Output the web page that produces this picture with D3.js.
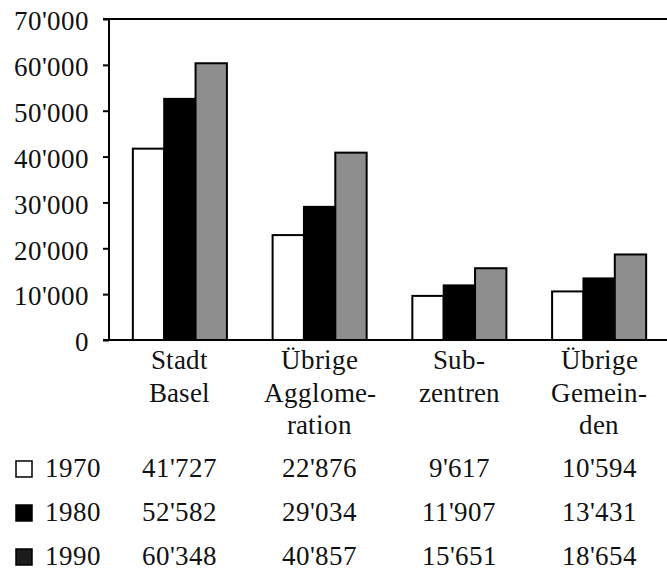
<!DOCTYPE html>
<html>
<head>
<meta charset="utf-8">
<script src="https://cdn.jsdelivr.net/npm/d3@7"></script>
<style>
  @font-face { font-family: 'ChartSerif'; src: local('Liberation Serif'), local('LiberationSerif'), local('LiberationSerif-Regular'), local('Tinos'), local('Times New Roman'); }
  html, body { margin: 0; padding: 0; background: #fff; }
  svg { display: block; }
</style>
</head>
<body>
<svg id="fig" width="667" height="571"></svg>
<script>
// ---- data ----
const categories = ["Stadt Basel", "Übrige Agglomeration", "Subzentren", "Übrige Gemeinden"];
const categoryLines = [["Stadt", "Basel"], ["Übrige", "Agglome-", "ration"], ["Sub-", "zentren"], ["Übrige", "Gemein-", "den"]];
const years = ["1970", "1980", "1990"];
const values1970 = [41727, 22876, 9617, 10594];
const values1980 = [52582, 29034, 11907, 13431];
const values1990 = [60348, 40857, 15651, 18654];
const yTicks = [0, 10000, 20000, 30000, 40000, 50000, 60000, 70000];

const series = [values1970, values1980, values1990];
const barFill = ["#ffffff", "#000000", "#8e8e8e"];
const legendFill = ["#ffffff", "#000000", "#1c1c1c"];

const locale = d3.formatLocale({ decimal: ".", thousands: "'", grouping: [3], currency: ["", ""] });
const fmt = locale.format(",d");

const svg = d3.select("#fig");
const fontSize = 27;
const serif = "'ChartSerif', 'Times New Roman'";

function styleText(sel) {
  return sel.style("font-family", serif)
    .attr("font-size", fontSize)
    .attr("fill", "#111");
}

const x0 = d3.scaleBand().domain(categories).range([110, 669]).paddingInner(0.327).paddingOuter(0.1635);
const x1 = d3.scaleBand().domain(years).range([0, x0.bandwidth()]).padding(0);
const y = d3.scaleLinear().domain([0, 70000]).range([340, 19]);

// bars
const groups = svg.append("g").selectAll("g").data(categories).join("g")
  .attr("transform", d => `translate(${x0(d)},0)`);
groups.selectAll("rect")
  .data((c, ci) => years.map((yr, si) => ({ yr, si, v: series[si][ci] })))
  .join("rect")
  .attr("x", d => x1(d.yr))
  .attr("y", d => y(d.v))
  .attr("width", x1.bandwidth())
  .attr("height", d => y(0) - y(d.v))
  .attr("fill", d => barFill[d.si])
  .attr("stroke", "#000")
  .attr("stroke-width", 2);

// y axis
const yAxis = d3.axisLeft(y).tickValues(yTicks).tickFormat(fmt).tickSize(6).tickPadding(14);
const ya = svg.append("g").attr("transform", "translate(109,0)").call(yAxis);
ya.attr("font-family", null).attr("font-size", fontSize);
ya.select(".domain").attr("stroke", "#000").attr("stroke-width", 2).attr("d", `M-6,${y(70000)}H0V${y(0)}H-6`);
ya.selectAll(".tick line").attr("stroke", "#000").attr("stroke-width", 2);
styleText(ya.selectAll(".tick text")).attr("dy", "0.4em");

// top and bottom frame lines
svg.append("line").attr("x1", 103).attr("x2", 667).attr("y1", y(70000)).attr("y2", y(70000))
  .attr("stroke", "#000").attr("stroke-width", 2);
svg.append("line").attr("x1", 103).attr("x2", 667).attr("y1", y(0)).attr("y2", y(0))
  .attr("stroke", "#000").attr("stroke-width", 2);

// category labels
const lineBase = 369, lineStep = 32.5;
categories.forEach((c, ci) => {
  categoryLines[ci].forEach((ln, li) => {
    styleText(svg.append("text"))
      .attr("x", x0(c) + x0.bandwidth() / 2)
      .attr("y", lineBase + li * lineStep)
      .attr("text-anchor", "middle")
      .text(ln);
  });
});

// table rows with legend
const rowBase = [477, 521, 565];
years.forEach((yr, si) => {
  svg.append("rect")
    .attr("x", 16).attr("y", rowBase[si] - 16)
    .attr("width", 16).attr("height", 16)
    .attr("fill", legendFill[si])
    .attr("stroke", "#000").attr("stroke-width", 1.5);
  styleText(svg.append("text")).attr("x", 45).attr("y", rowBase[si]).text(yr);
  categories.forEach((c, ci) => {
    styleText(svg.append("text"))
      .attr("x", x0(c) + x0.bandwidth() / 2)
      .attr("y", rowBase[si])
      .attr("text-anchor", "middle")
      .text(fmt(series[si][ci]));
  });
});
</script>
</body>
</html>
